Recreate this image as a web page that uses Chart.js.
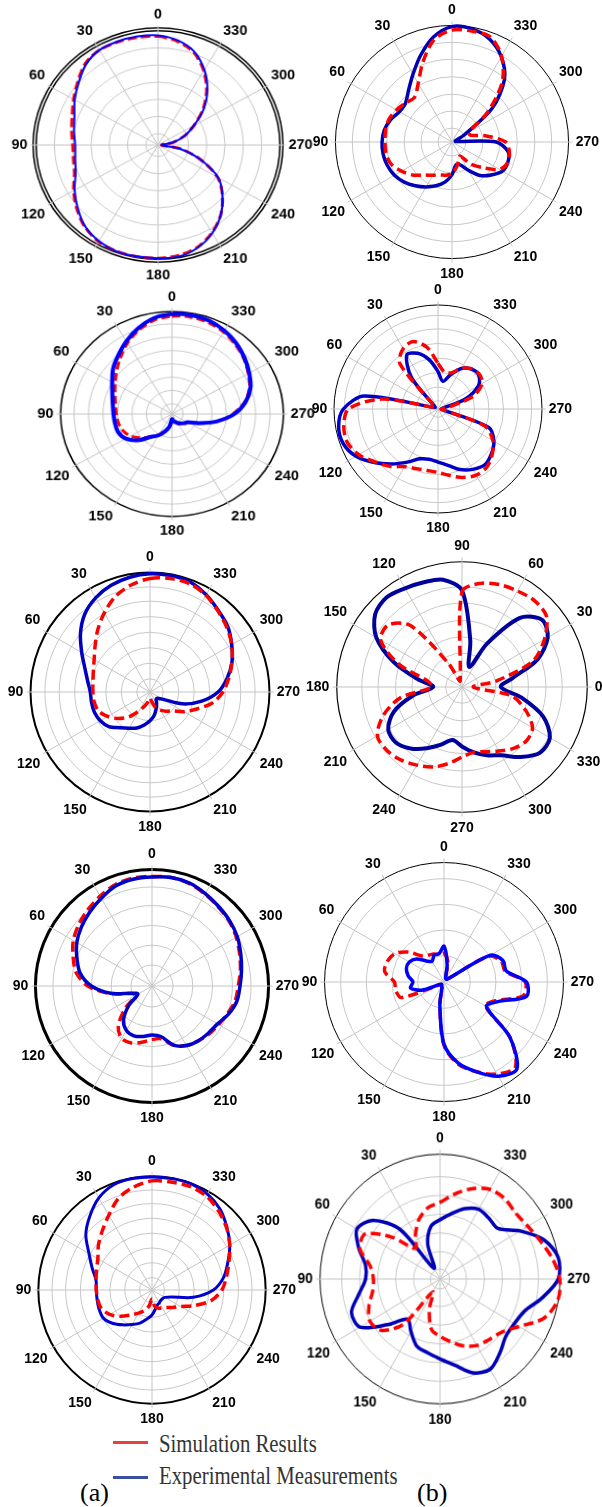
<!DOCTYPE html>
<html>
<head>
<meta charset="utf-8">
<script src="https://cdn.jsdelivr.net/npm/chart.js@4.4.0/dist/chart.umd.min.js"></script>
<style>
  html, body { margin: 0; padding: 0; background: #fff; }
  body { width: 602px; height: 1507px; position: relative; overflow: hidden; }
  .plot { position: absolute; }
  .key-line { position: absolute; left: 113px; width: 35px; height: 3px; }
  .key-text { position: absolute; left: 159px; font-family: 'Liberation Serif', serif; font-size: 26px;
              line-height: 26px; color: #333; white-space: nowrap; transform: scaleX(0.8); transform-origin: left top; }
  .tag { position: absolute; font-family: 'Liberation Serif', serif; font-size: 26px; line-height: 26px; color: #000; }
</style>
</head>
<body>

<div class="key-line" style="top:1441px;background:#e8403c"></div>
<div class="key-text" style="top:1431px">Simulation Results</div>
<div class="key-line" style="top:1476px;background:#3a4fa0"></div>
<div class="key-text" style="top:1463px">Experimental Measurements</div>
<div class="tag" style="left:80px;top:1480px">(a)</div>
<div class="tag" style="left:417px;top:1480px">(b)</div>

<script>
// angle categories (degrees), every 10 deg
const angles = [0, 10, 20, 30, 40, 50, 60, 70, 80, 90, 100, 110, 120, 130, 140, 150, 160, 170,
                180, 190, 200, 210, 220, 230, 240, 250, 260, 270, 280, 290, 300, 310, 320, 330, 340, 350];

// normalised radius, one value per angle above
const p1Sim = [.95,.955,.96,.96,.93,.86,.80,.75,.72,.70,.705,.73,.80,.87,.935,.975,.99,.99,.99,.98,.95,.885,.80,.69,.565,.37,.19,.03,.12,.23,.34,.48,.62,.75,.86,.92];
const p1Exp = [.96,.965,.965,.96,.92,.85,.79,.73,.70,.68,.69,.72,.79,.86,.93,.97,.99,.99,.99,.99,.955,.89,.80,.69,.57,.37,.18,.03,.12,.23,.34,.49,.63,.76,.87,.93];

const p2Sim = [.96,.89,.73,.58,.50,.52,.55,.575,.578,.575,.575,.555,.50,.44,.37,.33,.30,.29,.27,.22,.17,.14,.245,.34,.47,.51,.50,.46,.30,.17,.17,.40,.67,.85,.96,.966];
const p2Exp = [.99,.915,.79,.67,.58,.52,.52,.56,.59,.60,.60,.59,.57,.535,.49,.445,.40,.35,.28,.20,.21,.28,.375,.44,.50,.51,.49,.38,.03,.03,.12,.45,.70,.845,.94,.985];

const p3Sim = [.955,.93,.87,.80,.72,.65,.59,.545,.515,.50,.49,.47,.43,.36,.29,.23,.17,.12,.06,.07,.09,.11,.13,.15,.17,.27,.41,.545,.66,.74,.79,.84,.885,.925,.95,.96];
const p3Exp = [.975,.95,.89,.82,.75,.69,.62,.57,.54,.525,.52,.515,.48,.40,.29,.24,.18,.12,.05,.07,.08,.10,.12,.14,.16,.26,.41,.56,.67,.75,.80,.85,.90,.94,.97,.98];

const p4Sim = [.44,.60,.69,.67,.57,.05,.03,.05,.55,.86,.92,.93,.88,.79,.72,.64,.61,.60,.61,.65,.70,.735,.73,.68,.61,.48,.05,.03,.10,.36,.49,.52,.505,.45,.37,.36];
const p4Exp = [.36,.48,.57,.60,.40,.05,.03,.05,.72,.91,.97,.97,.91,.80,.69,.59,.51,.49,.51,.55,.62,.67,.70,.67,.62,.52,.05,.03,.05,.28,.45,.51,.50,.45,.35,.27];

const p5Sim = [.95,.91,.85,.765,.68,.60,.54,.505,.485,.478,.475,.46,.41,.345,.27,.18,.12,.08,.05,.08,.14,.175,.21,.245,.33,.415,.53,.61,.67,.73,.79,.84,.885,.935,.965,.965];
const p5Exp = [.99,.975,.95,.91,.85,.76,.66,.58,.53,.50,.497,.495,.48,.45,.39,.35,.32,.28,.24,.20,.15,.11,.08,.08,.12,.29,.44,.57,.655,.73,.79,.85,.89,.94,.98,.99];

// panel 6 uses 0 deg on the right, 90 deg at the top
const p6Sim = [.09,.28,.60,.76,.88,.90,.885,.87,.84,.76,.08,.05,.22,.64,.77,.75,.54,.28,.24,.50,.67,.78,.785,.76,.72,.68,.62,.56,.53,.55,.59,.64,.67,.65,.54,.40];
const p6Exp = [.31,.41,.64,.79,.835,.72,.40,.17,.38,.77,.87,.89,.91,.935,.905,.79,.58,.36,.23,.40,.58,.68,.69,.64,.565,.49,.43,.475,.53,.58,.63,.73,.815,.81,.69,.48];

const p7Sim = [.94,.94,.925,.89,.855,.82,.78,.72,.66,.55,.37,.19,.16,.30,.45,.52,.52,.49,.46,.46,.54,.59,.615,.64,.66,.69,.725,.74,.77,.80,.835,.865,.885,.91,.935,.945];
const p7Exp = [.935,.93,.913,.87,.83,.79,.745,.685,.625,.52,.36,.18,.14,.26,.38,.44,.455,.44,.42,.44,.54,.59,.615,.63,.65,.70,.74,.755,.78,.81,.845,.87,.89,.915,.94,.945];

const p8Sim = [.24,.235,.25,.26,.285,.39,.475,.505,.505,.415,.41,.38,.06,.03,.03,.04,.05,.20,.53,.70,.80,.89,.93,.72,.40,.46,.67,.68,.52,.51,.43,.04,.03,.03,.04,.18];
const p8Exp = [.30,.24,.24,.20,.23,.30,.335,.335,.305,.26,.285,.20,.04,.03,.03,.04,.05,.20,.52,.69,.80,.91,.95,.72,.41,.48,.70,.69,.53,.525,.45,.04,.03,.03,.04,.15];

const p9Sim = [.96,.92,.86,.76,.68,.615,.55,.52,.50,.49,.485,.475,.43,.36,.285,.235,.19,.14,.08,.15,.17,.18,.20,.24,.29,.40,.53,.615,.665,.72,.79,.855,.91,.955,.97,.965];
const p9Exp = [.995,.995,.985,.935,.85,.76,.64,.56,.50,.49,.49,.495,.495,.455,.40,.35,.31,.26,.22,.17,.14,.13,.12,.12,.13,.18,.37,.54,.64,.71,.79,.86,.93,.975,.995,.995];

const p10Sim = [.615,.58,.51,.41,.32,.52,.72,.71,.59,.555,.57,.63,.675,.64,.47,.12,.26,.41,.46,.51,.57,.615,.635,.665,.76,.92,.995,.998,.95,.89,.845,.822,.84,.83,.77,.69];
const p10Exp = [.475,.43,.30,.10,.52,.73,.80,.72,.63,.62,.685,.785,.77,.57,.42,.485,.57,.60,.64,.70,.80,.835,.775,.715,.715,.75,.865,.985,1.0,.92,.77,.63,.635,.645,.60,.53];

// grid rings (normalised radius) for each panel
const rings1 = [.1, .25, .4, .55, .7, .85];
const rings2 = [.12, .265, .41, .56, .71, .855];
const rings3 = [.1, .23, .36, .49, .62, .75, .88];
const rings4 = [.08, .21, .35, .49, .63, .77, .9];
const rings5 = [.11, .24, .37, .5, .63, .76, .88];
const rings6 = [.13, .27, .4, .53, .67, .8];
const rings7 = [.18, .35, .52, .69, .85];
const rings8 = [.22, .435, .65, .865];
const rings9 = [.11, .24, .37, .5, .63, .76, .88];
const rings10 = [.08, .22, .37, .52, .67, .82];

const panels = [
  { sim: p1Sim, exp: p1Exp, rings: rings1, outer: [1, 1.025], cx: 157.5, cy: 145, R: 118, sx: 1.03, sy: 0.966, maxv: 1.045,
    outerW: 1.5, start: 0, blue: '#0000ff', blueW: 2, redW: 3, dash: [9, 4], blueTop: true },
  { sim: p2Sim, exp: p2Exp, rings: rings2, outer: [1], cx: 452, cy: 142, R: 116, sx: 1, sy: 1, maxv: 1.035,
    outerW: 1, start: 0, blue: '#0000b4', blueW: 3.5, redW: 3.5, dash: [10, 5], blueTop: false },
  { sim: p3Sim, exp: p3Exp, rings: rings3, outer: [1], cx: 172, cy: 414, R: 106, sx: 1.042, sy: 0.958, maxv: 1.035,
    outerW: 1.5, start: 0, blue: '#0000ff', blueW: 4, redW: 3, dash: [8, 4], blueTop: true },
  { sim: p4Sim, exp: p4Exp, rings: rings4, outer: [1], cx: 438, cy: 409, R: 104, sx: 1, sy: 1, maxv: 1.035,
    outerW: 1, start: 0, blue: '#0000c8', blueW: 3.5, redW: 3.5, dash: [10, 5], blueTop: false },
  { sim: p5Sim, exp: p5Exp, rings: rings5, outer: [1], cx: 150, cy: 692, R: 119, sx: 1, sy: 1, maxv: 1.035,
    outerW: 2, start: 0, blue: '#0000c0', blueW: 3.5, redW: 3.5, dash: [10, 5], blueTop: false },
  { sim: p6Sim, exp: p6Exp, rings: rings6, outer: [1], cx: 462, cy: 687, R: 125, sx: 1, sy: 1, maxv: 1.035,
    outerW: 1.2, start: 90, blue: '#00009c', blueW: 4, redW: 3.5, dash: [10, 5], blueTop: false },
  { sim: p7Sim, exp: p7Exp, rings: rings7, outer: [1], cx: 152, cy: 986, R: 116, sx: 1, sy: 1, maxv: 1.035,
    outerW: 3, start: 0, blue: '#0000cc', blueW: 3.5, redW: 3.5, dash: [10, 5], blueTop: true },
  { sim: p8Sim, exp: p8Exp, rings: rings8, outer: [1], cx: 444, cy: 982, R: 119, sx: 1, sy: 1, maxv: 1.035,
    outerW: 1, start: 0, blue: '#0000ff', blueW: 3.5, redW: 3.5, dash: [10, 5], blueTop: true },
  { sim: p9Sim, exp: p9Exp, rings: rings9, outer: [1], cx: 152, cy: 1290, R: 113.5, sx: 1, sy: 1, maxv: 1.035,
    outerW: 2, start: 0, blue: '#0000d0', blueW: 3, redW: 3.5, dash: [10, 5], blueTop: false },
  { sim: p10Sim, exp: p10Exp, rings: rings10, outer: [1], cx: 440, cy: 1279, R: 121.6, sx: 0.981, sy: 1.02, maxv: 1.035,
    outerW: 1, start: 0, blue: '#0000b8', blueW: 3.5, redW: 3.5, dash: [10, 5], blueTop: false }
];

// radar draws clockwise from the top; the plots count angles the other way
function radarOrder(values, start) {
  return angles.map((_, i) => {
    const a = ((start - i * 10) % 360 + 360) % 360;
    return values[angles.indexOf(a)];
  });
}

function build(p, size) {
  const wrap = document.createElement('div');
  wrap.className = 'plot';
  const canvas = document.createElement('canvas');
  canvas.width = size;
  canvas.height = size;
  wrap.appendChild(canvas);
  document.body.appendChild(wrap);

  const labels = radarOrder(angles, p.start).map(a => (a % 30 === 0 ? String(a) : ''));
  const tickVals = [0].concat(p.rings, p.outer);

  const chart = new Chart(canvas, {
    type: 'radar',
    data: {
      labels: labels,
      datasets: [
        { label: 'Simulation Results', data: radarOrder(p.sim, p.start), borderColor: '#ff0000',
          borderWidth: p.redW, borderDash: p.dash, order: p.blueTop ? 1 : 0 },
        { label: 'Experimental Measurements', data: radarOrder(p.exp, p.start), borderColor: p.blue,
          borderWidth: p.blueW, order: p.blueTop ? 0 : 1 }
      ]
    },
    options: {
      responsive: false,
      animation: false,
      devicePixelRatio: 1,
      plugins: { legend: { display: false }, tooltip: { enabled: false } },
      elements: {
        point: { radius: 0, hoverRadius: 0 },
        line: { tension: 0.3, fill: false, borderJoinStyle: 'round' }
      },
      scales: {
        r: {
          min: 0,
          max: p.maxv,
          ticks: { display: false },
          afterBuildTicks: s => { s.ticks = tickVals.map(v => ({ value: v })); },
          grid: {
            circular: true,
            color: c => (c.tick && p.outer.includes(c.tick.value) ? '#000' : '#c8c8c8'),
            lineWidth: c => (c.tick && p.outer.includes(c.tick.value) ? p.outerW : 1)
          },
          angleLines: { color: '#c4c4c4', lineWidth: c => (c.label ? 1 : 0) },
          pointLabels: {
            padding: 3,
            color: '#000',
            font: { family: 'Liberation Sans', size: 14, weight: 'bold' }
          }
        }
      }
    }
  });
  return { wrap, chart };
}

panels.forEach(p => {
  // first pass: find how much room the angle labels take
  let t = build(p, 400);
  const overflow = 200 - t.chart.scales.r.drawingArea;
  t.chart.destroy();
  t.wrap.remove();

  const size = 2 * Math.ceil(p.R * p.maxv + overflow);
  t = build(p, size);
  const r = t.chart.scales.r;
  t.wrap.style.left = (p.cx - r.xCenter) + 'px';
  t.wrap.style.top = (p.cy - r.yCenter) + 'px';
  if (p.sx !== 1 || p.sy !== 1) {
    t.wrap.style.transformOrigin = r.xCenter + 'px ' + r.yCenter + 'px';
    t.wrap.style.transform = 'scale(' + p.sx + ',' + p.sy + ')';
  }
});
</script>
</body>
</html>
